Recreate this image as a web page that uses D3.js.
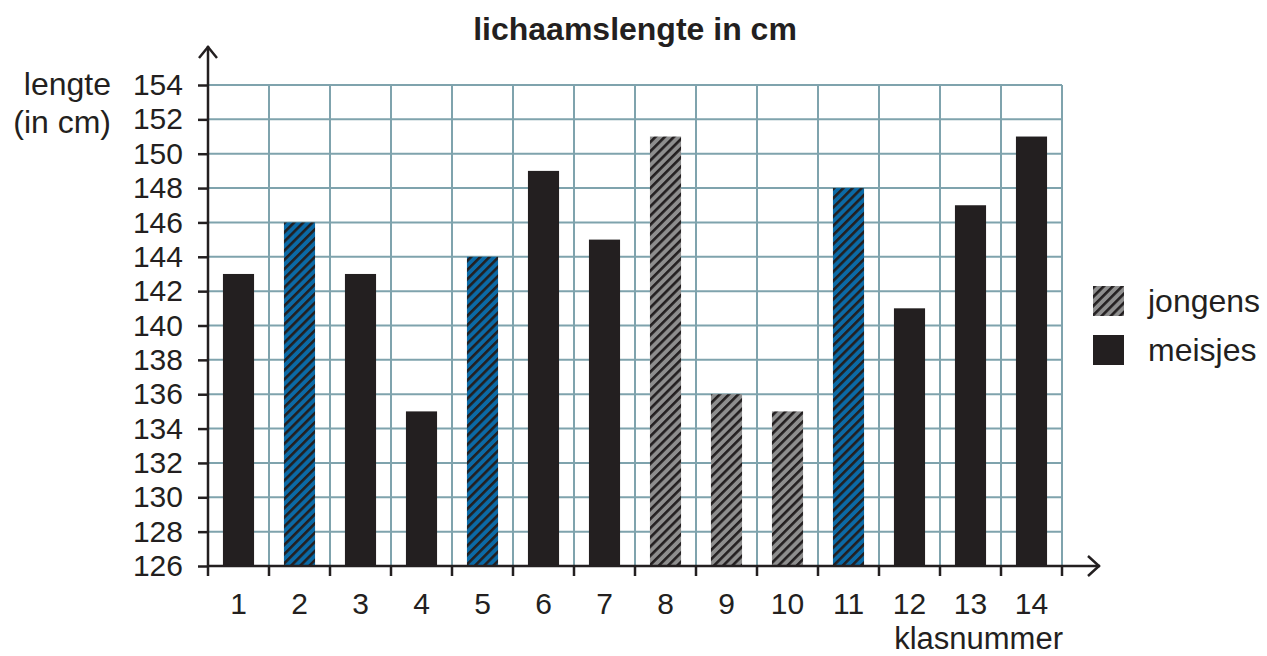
<!DOCTYPE html>
<html>
<head>
<meta charset="utf-8">
<script src="https://cdn.jsdelivr.net/npm/d3@7"></script>
<style>
  body { margin: 0; background: #fff; }
  text { font-family: "Liberation Sans", Arial, sans-serif; fill: #231f20; }
</style>
</head>
<body>
<svg width="1267" height="656"></svg>
<script>
    const classes = [1, 2, 3, 4, 5, 6, 7, 8, 9, 10, 11, 12, 13, 14];
    const lengths = [143, 146, 143, 135, 144, 149, 145, 151, 136, 135, 148, 141, 147, 151];
    // j = jongens, m = meisjes
    const gender = ["m", "j", "m", "m", "j", "m", "m", "j", "j", "j", "j", "m", "m", "m"];
    // classes shown in blue
    const highlighted = [2, 5, 11];
    const yTicks = d3.range(126, 155, 2);
    const legendItems = ["jongens", "meisjes"];

    const svg = d3.select("svg");
    const plotLeft = 208, plotRight = 1062, plotTop = 85, plotBottom = 566;
    const dark = "#231f20";
    const gridColor = "#7fa3ad";
    const tickFont = 30;
    const labelFont = 32;

    const x = d3.scaleBand()
        .domain(classes)
        .range([plotLeft, plotRight])
        .paddingInner(0.49)
        .paddingOuter(0.245);

    const y = d3.scaleLinear()
        .domain([126, 154])
        .range([plotBottom, plotTop]);

    const defs = svg.append("defs");
    const hatch = (id, bg) => {
        const p = defs.append("pattern")
            .attr("id", id)
            .attr("patternUnits", "userSpaceOnUse")
            .attr("width", 6.5)
            .attr("height", 6.5)
            .attr("patternTransform", "rotate(45)");
        p.append("rect").attr("width", 6.5).attr("height", 6.5).attr("fill", bg);
        p.append("rect").attr("width", 2.6).attr("height", 6.5).attr("fill", dark);
    };
    hatch("hatch-grey", "#8e8e8e");
    hatch("hatch-blue", "#0b6aa6");

    const fillFor = (i) => {
        if (gender[i] === "m") return dark;
        return highlighted.includes(classes[i]) ? "url(#hatch-blue)" : "url(#hatch-grey)";
    };

    // grid
    const step = x.step();
    svg.append("g")
        .selectAll("line")
        .data(yTicks.slice(1))
        .enter().append("line")
            .attr("x1", plotLeft).attr("x2", plotRight)
            .attr("y1", y).attr("y2", y)
            .attr("stroke", gridColor)
            .attr("stroke-width", 2);

    svg.append("g")
        .selectAll("line")
        .data(classes)
        .enter().append("line")
            .attr("x1", (d) => x(d) - x.paddingOuter() * step + step)
            .attr("x2", (d) => x(d) - x.paddingOuter() * step + step)
            .attr("y1", plotTop).attr("y2", plotBottom)
            .attr("stroke", gridColor)
            .attr("stroke-width", 2);

    // bars
    svg.append("g")
        .selectAll("rect")
        .data(lengths)
        .enter().append("rect")
            .attr("x", (d, i) => x(classes[i]))
            .attr("y", (d) => y(d))
            .attr("width", x.bandwidth())
            .attr("height", (d) => plotBottom - y(d))
            .attr("fill", (d, i) => fillFor(i));

    // axes
    const yAxis = svg.append("g")
        .attr("transform", `translate(${plotLeft},0)`)
        .call(d3.axisLeft(y).tickValues(yTicks).tickSize(10).tickPadding(15));
    yAxis.select(".domain").remove();
    yAxis.selectAll(".tick line").attr("stroke", dark).attr("stroke-width", 2.5);
    yAxis.selectAll(".tick text")
        .attr("font-size", tickFont)
        .attr("font-family", "Liberation Sans")
        .attr("fill", dark);

    const xAxis = svg.append("g")
        .attr("transform", `translate(0,${plotBottom})`)
        .call(d3.axisBottom(x).tickSize(0).tickPadding(27));
    xAxis.select(".domain").remove();
    xAxis.selectAll(".tick text")
        .attr("font-size", tickFont)
        .attr("font-family", "Liberation Sans")
        .attr("fill", dark);

    // x tick marks at category boundaries
    svg.append("g")
        .selectAll("line")
        .data([0].concat(classes))
        .enter().append("line")
            .attr("x1", (d, i) => plotLeft + i * step)
            .attr("x2", (d, i) => plotLeft + i * step)
            .attr("y1", plotBottom).attr("y2", plotBottom + 10)
            .attr("stroke", dark)
            .attr("stroke-width", 2.5);

    // axis lines with arrows
    svg.append("line")
        .attr("x1", plotLeft).attr("x2", plotLeft)
        .attr("y1", plotBottom + 1).attr("y2", 46)
        .attr("stroke", dark).attr("stroke-width", 2.5);
    svg.append("path")
        .attr("d", `M${plotLeft - 9},58 L${plotLeft},47 L${plotLeft + 9},58`)
        .attr("fill", "none").attr("stroke", dark).attr("stroke-width", 2.5);
    svg.append("line")
        .attr("x1", plotLeft - 1).attr("x2", 1100)
        .attr("y1", plotBottom).attr("y2", plotBottom)
        .attr("stroke", dark).attr("stroke-width", 2.5);
    svg.append("path")
        .attr("d", `M1088,${plotBottom - 10} L1099,${plotBottom} L1088,${plotBottom + 10}`)
        .attr("fill", "none").attr("stroke", dark).attr("stroke-width", 2.5);

    // titles
    svg.append("text")
        .attr("x", 635).attr("y", 40)
        .attr("text-anchor", "middle")
        .attr("font-size", 32)
        .attr("font-weight", "bold")
        .text("lichaamslengte in cm");

    svg.append("text")
        .attr("x", 111).attr("y", 95)
        .attr("text-anchor", "end")
        .attr("font-size", labelFont)
        .text("lengte");
    svg.append("text")
        .attr("x", 111).attr("y", 133)
        .attr("text-anchor", "end")
        .attr("font-size", labelFont)
        .text("(in cm)");

    svg.append("text")
        .attr("x", 1063).attr("y", 649)
        .attr("text-anchor", "end")
        .attr("font-size", 31)
        .text("klasnummer");

    // legend
    const legend = svg.append("g")
        .selectAll("g")
        .data(legendItems)
        .enter().append("g")
            .attr("transform", (d, i) => `translate(1093,${286 + i * 49})`);
    legend.append("rect")
        .attr("width", 31).attr("height", 30)
        .attr("fill", (d) => d === "jongens" ? "url(#hatch-grey)" : dark);
    legend.append("text")
        .attr("x", 55).attr("y", 15)
        .attr("dy", "0.35em")
        .attr("font-size", labelFont)
        .text((d) => d);
</script>
</body>
</html>
